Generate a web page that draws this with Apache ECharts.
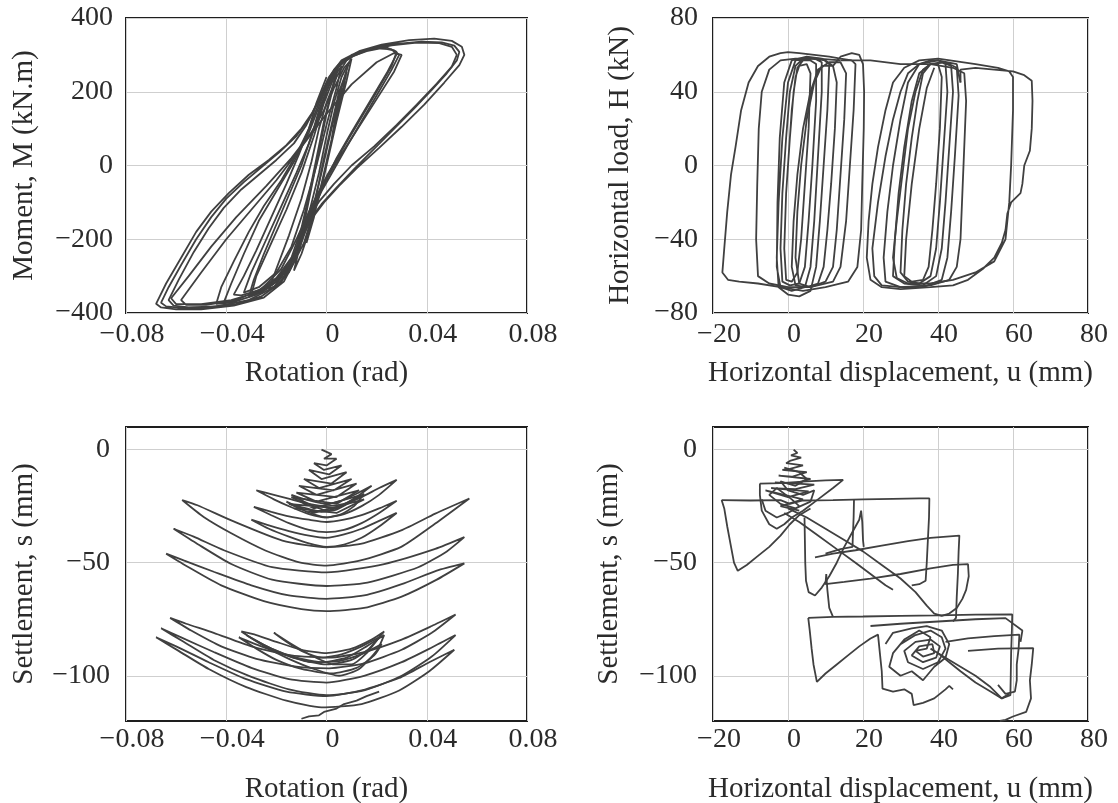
<!DOCTYPE html>
<html>
<head>
<meta charset="utf-8">
<script src="https://cdn.jsdelivr.net/npm/echarts@6/dist/echarts.min.js"></script>
<style>
html,body{margin:0;padding:0;background:#fff;}
#chart{width:1118px;height:803px;}
</style>
</head>
<body>
<div id="chart"></div>
<script>
// ---------- tick values ----------
const rotationTicks = [-0.08, -0.04, 0, 0.04, 0.08];
const momentTicks = [-400, -200, 0, 200, 400];
const dispTicks = [-20, 0, 20, 40, 60, 80];
const loadTicks = [-80, -40, 0, 40, 80];
const settlementTicks = [-100, -50, 0];

// ---------- moment vs rotation (rad, kN.m) ----------
const momentCycles1 = [[0,0],[0.002,70],[0.004,150],[0.006,210],[0.005,170],[0.002,70],[-0.002,-50],[-0.005,-140],[-0.008,-210],[-0.007,-170],[-0.004,-80],[-0.001,20],[0.002,110],[0.005,200],[0.008,255],[0.006,190],[0.002,60],[-0.002,-60],[-0.006,-160],[-0.010,-240],[-0.013,-285],[-0.011,-230],[-0.007,-130],[-0.003,-20],[0,80],[0.003,170],[0.006,240],[0.009,280],[0.010,290],[0.008,230],[0.004,120],[0,0],[-0.004,-100],[-0.009,-210],[-0.015,-290],[-0.020,-325],[-0.023,-335],[-0.020,-280],[-0.015,-190],[-0.010,-90],[-0.006,10],[-0.003,100],[0,170],[0.004,240],[0.008,285],[0.011,298]];
const momentCycles2 = [[0.011,298],[0.016,310],[0.022,318],[0.027,312],[0.029,300],[0.026,260],[0.020,190],[0.014,120],[0.008,50],[0.003,-10],[-0.002,-70],[-0.006,-130],[-0.010,-200],[-0.015,-270],[-0.022,-320],[-0.030,-355],[-0.038,-372],[-0.044,-375],[-0.042,-330],[-0.037,-260],[-0.031,-180],[-0.025,-110],[-0.018,-40],[-0.012,30],[-0.007,100],[-0.003,170],[0.001,230],[0.006,280],[0.012,305],[0.020,318],[0.026,315],[0.028,302],[0.024,250],[0.017,170],[0.010,90],[0.004,20],[-0.001,-50],[-0.005,-110],[-0.009,-180],[-0.014,-260],[-0.020,-315],[-0.028,-350],[-0.036,-368],[-0.041,-372]];
const momentCycles3 = [[-0.041,-372],[-0.038,-320],[-0.033,-240],[-0.027,-150],[-0.020,-70],[-0.013,10],[-0.007,90],[-0.003,160],[0.001,230],[0.005,275],[0.010,300],[0.018,318],[0.028,330],[0.038,336],[0.046,334],[0.051,325],[0.053,308],[0.052,285],[0.048,250],[0.042,205],[0.035,155],[0.027,100],[0.019,45],[0.011,-10],[0.004,-60],[-0.002,-105],[-0.007,-150],[-0.010,-200],[-0.013,-260],[-0.018,-315],[-0.026,-355],[-0.036,-375],[-0.048,-385],[-0.058,-386],[-0.064,-382],[-0.066,-372],[-0.063,-330],[-0.058,-270],[-0.052,-200],[-0.046,-140],[-0.040,-90],[-0.033,-45],[-0.026,-5],[-0.019,35],[-0.012,80],[-0.007,125],[-0.003,180],[0.001,240],[0.006,285],[0.013,310],[0.022,328],[0.033,340],[0.043,344],[0.050,338],[0.054,322],[0.055,300],[0.053,272],[0.047,225],[0.039,165],[0.030,105],[0.021,48],[0.012,-8],[0.005,-55],[-0.001,-100],[-0.006,-145],[-0.010,-200],[-0.013,-262],[-0.017,-315],[-0.025,-358],[-0.037,-380],[-0.050,-390],[-0.060,-390],[-0.066,-385],[-0.068,-375],[-0.064,-320],[-0.058,-250],[-0.052,-180],[-0.046,-125],[-0.039,-75],[-0.031,-25],[-0.023,15],[-0.016,55],[-0.010,100],[-0.005,150],[0,215],[0.004,265],[0.010,298],[0.018,318]];
const momentCycles4 = [[0.018,318],[0.024,320],[0.028,308],[0.026,270],[0.020,200],[0.013,120],[0.006,40],[0,-30],[-0.006,-110],[-0.012,-200],[-0.018,-280],[-0.026,-335],[-0.036,-365],[-0.048,-378],[-0.056,-378],[-0.058,-365],[-0.050,-290],[-0.040,-200],[-0.030,-120],[-0.020,-40],[-0.010,50],[0,140],[0.010,220],[0.020,280],[0.027,305],[0.030,300],[0.027,255],[0.020,180],[0.012,95],[0.005,20],[-0.002,-60],[-0.008,-150],[-0.013,-240],[-0.019,-305],[-0.028,-345],[-0.038,-365],[-0.050,-376],[-0.060,-376],[-0.062,-360],[-0.055,-300],[-0.046,-220],[-0.036,-140],[-0.024,-55],[-0.014,20],[-0.006,90],[-0.001,150],[0.003,210]];
const momentCycles5 = [[0.003,210],[0.007,265],[0.009,280],[0.006,210],[0.002,100],[-0.002,-20],[-0.006,-130],[-0.011,-230],[-0.017,-300],[-0.024,-335],[-0.030,-350],[-0.028,-300],[-0.022,-210],[-0.016,-120],[-0.010,-20],[-0.005,80],[-0.001,170],[0.003,240],[0.006,270],[0.004,210],[0,110],[-0.004,0],[-0.009,-120],[-0.014,-220],[-0.020,-290],[-0.027,-330],[-0.033,-345],[-0.030,-290],[-0.024,-200],[-0.018,-110],[-0.012,-20],[-0.007,60],[-0.003,140],[0,200]];
const momentCycles6 = [[0,200],[0.004,262],[0.009,292],[0.016,312],[0.026,326],[0.036,333],[0.045,332],[0.050,322],[0.052,300],[0.050,268],[0.044,222],[0.036,165],[0.028,110],[0.019,52],[0.010,0],[0.003,-50],[-0.003,-98],[-0.008,-150],[-0.011,-210],[-0.015,-275],[-0.021,-330],[-0.031,-365],[-0.044,-382],[-0.055,-385],[-0.061,-380],[-0.063,-365],[-0.059,-310],[-0.053,-235],[-0.047,-170],[-0.041,-115],[-0.034,-65],[-0.027,-25],[-0.020,15],[-0.013,60],[-0.008,110],[-0.004,165],[0,225]];
const momentCycles7 = [[0,225],[0.003,260],[0.005,275],[0.003,220],[0,140],[-0.003,40],[-0.006,-60],[-0.009,-160],[-0.013,-250],[-0.019,-310],[-0.026,-345],[-0.031,-355],[-0.029,-310],[-0.025,-240],[-0.020,-160],[-0.015,-80],[-0.010,0],[-0.006,80],[-0.003,150],[0.001,220],[0.004,262],[0.002,200],[-0.001,120],[-0.004,20],[-0.007,-80],[-0.010,-170],[-0.014,-250],[-0.020,-305],[-0.027,-338],[-0.034,-352],[-0.037,-350],[-0.033,-300],[-0.028,-230],[-0.022,-140],[-0.016,-50],[-0.011,30],[-0.007,100],[-0.004,170],[0,240]];

// ---------- horizontal load vs displacement (mm, kN) ----------
const loadGroupA = [[0,0],[1,30],[2,48],[3,54],[5,55],[6,50],[5.5,20],[4.5,-10],[3.5,-40],[2.5,-58],[1,-63],[-0.5,-62],[-1,-45],[-0.5,-15],[0.5,15],[1.5,40],[2.5,53],[4,57],[6,57],[7.5,55],[7.5,35],[6.5,0],[5.5,-30],[4.5,-55],[3,-64],[0.5,-65],[-1.5,-63],[-2,-45],[-1.5,-15],[-0.5,15],[0.5,40],[2,54],[4,58],[7,58],[9,56],[9,40],[8,5],[7,-30],[6,-55],[4.5,-66],[1,-68],[-2,-66],[-3,-55],[-2.8,-20],[-2.2,15],[-1,45],[1,57],[5,59],[9,58],[11,55],[10.5,30],[9.5,0],[8.5,-30],[7.5,-55],[6,-68],[3,-71],[0,-70],[-2.5,-66],[-3,-50],[-2.5,-20],[-1.5,15],[0,45],[2,57],[6,58],[10,57],[12,54]];
const loadGroupG = [[12,54],[13,45],[12.5,20],[11.5,-10],[10.5,-35],[9.5,-55],[8,-64],[5,-66],[2,-65],[1,-55],[1.5,-30],[2.5,-5],[4,20],[6,40],[8,52],[11,56],[14,56],[15.5,50],[15,25],[14,-5],[13,-35],[12,-55],[10,-63],[6,-66],[3,-64],[2,-50],[2.5,-25],[3.5,0],[5,25],[7,45],[9,54],[12,54]];
const loadGroupB = [[12,54],[14,59],[17,61],[19,60],[20,55],[20.3,40],[20.2,20],[19.8,-10],[19.5,-35],[18.5,-55],[16,-63],[10,-66],[4,-68],[-2,-66],[-8,-64],[-13,-63],[-16,-62],[-17.5,-58],[-17,-45],[-16.2,-25],[-15.2,-5],[-14,10],[-12.5,30],[-10.5,45],[-8,54],[-5,59],[-2,61],[0,61.5],[3,61],[7,60],[11,59],[14,58],[17,57]];
const loadGroupB2 = [[17,57],[18,55],[17.5,30],[16.5,0],[15.5,-30],[14,-55],[12,-63],[6,-66],[0,-66],[-5,-64],[-8,-60],[-8.5,-40],[-8.2,-10],[-7.8,20],[-7,40],[-5,52],[-2,57],[2,58],[8,58],[14,57]];
const loadGroupC = [[14,57],[22,57],[30,55],[38,55],[44,53],[47,50],[47.5,35],[47,10],[46.5,-15],[46,-40],[45,-55],[43,-62],[38,-65],[30,-66],[25,-65],[23,-60],[22.5,-45],[24,-20],[26,5],[28,25],[30,40],[32,50],[35,55],[38,57],[40,57]];
const loadGroupD = [[40,57],[42,55],[42.5,40],[41.5,10],[40.5,-20],[39.5,-45],[38,-60],[35,-64],[32,-63],[30,-58],[30.5,-35],[31.5,-10],[33,15],[34.5,35],[36,50],[38,55],[41,56],[43.5,54],[44,40],[43,10],[42,-20],[41,-45],[39.5,-60],[36,-65],[31,-64],[28,-60],[28.5,-40],[29.5,-15],[31,10],[33,35],[35,50],[38,55],[42,56],[45,53],[45.5,38],[44.5,5],[43.5,-25],[42.5,-50],[41,-62],[36,-66],[30,-66],[26,-63],[25.5,-50],[26.5,-25],[28,0],[30,25],[32,45],[35,55],[40,57],[45,55],[46,45]];
const loadGroupE = [[46,45],[46,52],[50,53],[55,52],[60,51],[63,49],[65,46],[65.2,35],[65,20],[64.5,8],[63,0],[62.5,-10],[62,-15],[59.5,-20],[58.5,-26],[58,-35],[57,-42],[55,-50],[52,-56],[48,-62],[44,-65],[38,-66],[30,-67],[25,-66],[22,-62],[21,-50],[21.5,-30],[22.5,-10],[24,10],[26,30],[28,45],[31,53],[35,57],[40,58],[50,55],[56,53],[59,51],[60,48],[60,30],[59.5,0],[59,-20],[58,-40],[55,-52],[50,-58],[44,-62],[38,-64],[32,-64],[29,-61],[28,-50],[29,-30]];
const loadGroupF = [[29,-30],[30.5,-5],[32,20],[34,40],[36,52],[38,55],[40,55],[41,48],[40.5,20],[39.5,-10],[38.5,-35],[37.5,-55],[36,-62],[33,-63],[31,-60],[31.5,-40],[33,-10],[35,20],[37,42],[39,53]];

// ---------- settlement vs rotation (rad, mm) ----------
const settleTree = [[-0.002,0],[0.002,-2],[-0.001,-4],[0.004,-4],[0,-7],[-0.005,-6],[-0.001,-9],[0.006,-7],[0.001,-11],[-0.007,-9],[-0.002,-13],[0.008,-10],[0.002,-15],[-0.009,-13],[-0.003,-17],[0.010,-13],[0.003,-18],[-0.011,-16],[-0.004,-20],[0.012,-15],[0.004,-21],[-0.012,-19],[-0.004,-23],[0.013,-18],[0.004,-24],[-0.014,-21],[-0.005,-26],[0.014,-20],[0.004,-26],[-0.015,-24],[-0.005,-28],[0.015,-22],[0.004,-28],[-0.013,-26]];
const settleRing0 = [[-0.014,-20],[-0.009,-23],[-0.004,-25.5],[0,-27],[0.006,-25],[0.012,-21],[0.018,-16],[0.012,-19.5],[0.006,-22.5],[0,-24],[-0.005,-23],[-0.010,-21.5],[-0.014,-20]];
const settleRing0b = [[-0.016,-23],[-0.010,-26.5],[-0.004,-29],[0,-30],[0.006,-28.5],[0.011,-25],[0.015,-19.5],[0.010,-23],[0.004,-26.5],[-0.002,-27.5],[-0.008,-26],[-0.013,-24.5],[-0.016,-23]];
const settleRing1 = [[-0.028,-18],[-0.021,-22],[-0.014,-25.5],[-0.007,-28.5],[0,-30],[0.007,-28.5],[0.014,-25],[0.021,-20],[0.028,-13.4],[0.021,-17],[0.014,-21],[0.007,-24],[0,-25],[-0.007,-24],[-0.014,-22],[-0.021,-20],[-0.028,-18]];
const settleRing2 = [[-0.029,-25.3],[-0.022,-29],[-0.015,-32.5],[-0.007,-35.5],[0,-36.5],[0.007,-35.5],[0.014,-32.5],[0.021,-28],[0.028,-22.6],[0.021,-26],[0.014,-29],[0.007,-31],[0,-32],[-0.007,-31],[-0.015,-29.5],[-0.022,-27.5],[-0.029,-25.3]];
const settleRing3 = [[-0.030,-31],[-0.023,-35],[-0.015,-38.5],[-0.007,-41.5],[0,-43],[0.007,-42],[0.014,-39],[0.021,-34],[0.028,-28],[0.021,-31.5],[0.014,-35],[0.007,-37.5],[0,-39],[-0.007,-38],[-0.015,-36],[-0.023,-33.5],[-0.030,-31]];
const settleRing4 = [[-0.0576,-22.3],[-0.049,-29.8],[-0.038,-37],[-0.0244,-44.6],[-0.0108,-49.9],[0,-51.3],[0.0136,-49],[0.0298,-43],[0.0434,-32.7],[0.057,-21.6],[0.0434,-28.3],[0.0298,-35.7],[0.0136,-41.7],[0,-43.2],[-0.0176,-40.2],[-0.038,-31.3],[-0.0515,-24.6],[-0.0576,-22.3]];
const settleRing5 = [[-0.061,-35],[-0.0515,-41.7],[-0.038,-50.6],[-0.0217,-57.5],[0,-60.3],[0.0163,-58.8],[0.0366,-52],[0.048,-45],[0.055,-38.7],[0.0434,-43.9],[0.023,-50.6],[0,-54.3],[-0.0217,-52],[-0.0407,-44.6],[-0.053,-38.5],[-0.061,-35]];
const settleRing6 = [[-0.064,-46],[-0.055,-52],[-0.042,-60],[-0.025,-67],[-0.010,-70.5],[0,-71.4],[0.015,-70],[0.030,-65],[0.044,-57.5],[0.055,-50.3],[0.044,-53.5],[0.030,-59.5],[0.015,-64.5],[0,-66],[-0.015,-64.5],[-0.030,-60],[-0.045,-54],[-0.057,-49],[-0.064,-46]];
const settleRing7 = [[-0.0624,-74.4],[-0.054,-80],[-0.042,-87],[-0.028,-92.5],[-0.012,-96],[0.001,-96.7],[0.015,-94.5],[0.030,-88.5],[0.042,-81],[0.0515,-72.9],[0.042,-78],[0.030,-84],[0.015,-89.5],[0.001,-92],[-0.014,-91],[-0.030,-87],[-0.045,-81],[-0.056,-77],[-0.0624,-74.4]];
const settleRing8 = [[-0.066,-79],[-0.057,-85],[-0.045,-93],[-0.030,-100.5],[-0.015,-106],[0,-108.6],[0.015,-106.5],[0.030,-100],[0.042,-91.5],[0.0515,-82],[0.042,-87.5],[0.030,-94],[0.015,-100],[0,-103],[-0.015,-101.5],[-0.030,-96.5],[-0.045,-89.5],[-0.058,-83],[-0.066,-79]];
const settleRing9 = [[-0.068,-83],[-0.059,-89],[-0.047,-97],[-0.032,-105],[-0.016,-111],[-0.002,-114],[0.014,-112.5],[0.029,-106.5],[0.041,-98],[0.051,-88.5],[0.041,-94],[0.029,-101],[0.014,-106.5],[0,-109],[-0.016,-107],[-0.032,-101.5],[-0.047,-94],[-0.060,-87],[-0.068,-83]];
const settleRing10 = [[-0.034,-80.4],[-0.029,-84],[-0.022,-88],[-0.013,-92],[0,-95],[0.010,-93],[0.017,-88],[0.023,-80.4],[0.018,-84],[0.010,-88],[0,-90],[-0.010,-88.5],[-0.020,-85],[-0.028,-82],[-0.034,-80.4]];
const settleRing11 = [[-0.035,-83],[-0.028,-88],[-0.020,-93],[-0.010,-97],[0.002,-99],[0.012,-96.5],[0.019,-91],[0.022,-86],[0.015,-90],[0.005,-93.5],[-0.006,-94],[-0.016,-91],[-0.026,-87],[-0.035,-83]];
const settleRing12 = [[-0.021,-81],[-0.014,-86],[-0.006,-91],[0.003,-95],[0.010,-95],[0.016,-90],[0.021,-83],[0.014,-87],[0.006,-90.5],[-0.002,-92],[-0.010,-89],[-0.016,-85],[-0.021,-81]];
const settleRing13 = [[-0.032,-82],[-0.024,-87.5],[-0.015,-92.5],[-0.005,-97],[0.005,-100],[0.013,-97],[0.020,-89],[0.023,-82],[0.016,-87],[0.008,-92],[-0.002,-94],[-0.012,-92],[-0.022,-88],[-0.032,-82]];
const settleTail = [[0.021,-107],[0.016,-109],[0.012,-111],[0.007,-112.5],[0.004,-114.5],[-0.001,-116],[-0.003,-117.5],[-0.007,-118],[-0.010,-119]];

// ---------- settlement vs horizontal displacement (mm, mm) ----------
const pathTop = [[1.5,0],[2.5,-1.5],[0.8,-2.5],[3.5,-3.5],[0.5,-5],[-0.5,-6],[4,-7],[0.5,-8.5],[-1.5,-9],[5,-10],[1,-12],[-2.5,-11.5],[6,-13],[1.5,-15],[-3.5,-14.5],[7,-15.5],[2,-17.5],[-4.5,-17],[5.5,-18.5],[0,-21],[-6,-18],[4,-22],[-2,-25],[3,-27]];
const pathTop2 = [[-1,-8],[3,-10],[5,-13],[2,-16],[-2,-14],[0,-18],[4,-20],[7,-18],[6,-23],[2,-26],[-2,-24],[-5,-20],[-3,-17],[1,-22],[3,-25],[0,-28],[-3,-30],[-6,-27],[-7,-22]];
const pathUpperBox = [[-17.7,-22.3],[-10,-22.5],[-2,-22.3],[0.5,-24],[4,-22.5],[12,-22.3],[20,-22],[28,-21.8],[35,-21.6],[37.7,-21.6],[37.6,-30],[37.3,-40],[37,-50],[36.7,-58],[35,-59.5],[33,-60]];
const pathLeftWedge = [[-17.7,-22.3],[-17,-26],[-16.2,-34],[-15.3,-42],[-14.4,-50],[-13.4,-53.6],[-11,-51],[-8,-47],[-5,-43],[-2,-38],[0.5,-33],[3,-29],[6,-26]];
const pathTopWedge = [[-7.5,-15],[-2,-14.8],[5,-14],[10,-13.6],[14.7,-13.4],[12,-17],[8,-22],[4,-27],[1,-30],[-1,-33],[-3,-35],[-5,-33],[-7,-27],[-7.5,-20],[-7.5,-15]];
const pathMidWedge = [[4.4,-30],[4.5,-40],[4.6,-50],[4.8,-58],[5.5,-63],[7.2,-64.5],[9,-61],[11,-56],[13,-50],[15,-43],[17,-37],[19,-31],[19.5,-27],[19.8,-32],[20,-40],[20.2,-43]];
const pathMidStep = [[17.6,-22],[17.5,-30],[17.3,-38],[17.2,-43],[14,-44],[10,-46]];
const pathMidBox = [[7.2,-47.6],[12,-46],[18,-44.5],[25,-42.5],[32,-40.5],[38,-39],[45.7,-38],[45.5,-45],[45.3,-55],[45,-65],[44.8,-74.4],[44,-76]];
const pathValley = [[0,-26],[5,-30],[10,-35],[15,-40],[20,-45],[25,-51],[30,-57],[34,-63],[37,-69],[39,-72.5],[41,-73.5],[43,-72.5],[45,-70],[46.5,-66],[47.5,-62],[48.2,-56],[48,-50.6],[44,-51],[38,-52.5],[30,-55],[22,-57],[15,-58.5],[10,-59.5],[10.2,-55],[10.5,-62],[11,-70],[12,-74]];
const pathDiagonal = [[-1,-28],[3,-32],[8,-38],[13,-44],[18,-50],[22,-55],[26,-60],[28,-62]];
const pathLowerBox = [[5.4,-74.4],[12,-74],[20,-73.8],[30,-73.5],[40,-73.3],[50,-73],[59.8,-72.9],[59.7,-80],[59.5,-90],[59.4,-100],[59.3,-108.6],[57,-110],[54,-107],[50,-103],[46,-98],[43,-94],[40,-90]];
const pathLowerWedge = [[5.4,-74.4],[5.8,-80],[6.3,-88],[6.8,-95],[7.7,-102.7],[10,-99],[13,-95],[16,-91],[19,-87],[22,-83.5],[24,-81.8],[24.5,-90],[25,-98],[25.2,-105.7],[28,-107],[31,-106],[33,-108],[33.5,-113],[36,-112],[39,-110],[42,-106],[43,-104.5],[44,-106]];
const pathRightEdge = [[42,-85],[48,-83.5],[55,-82.5],[61.7,-81.8],[61.5,-88],[61,-95],[61,-102],[60.5,-107],[58,-108],[56,-104]];
const pathRightTail = [[48,-89],[56,-88],[65.4,-87.8],[65,-95],[64.5,-102],[64.8,-110],[63.5,-116],[60,-118],[58,-119.5],[56.5,-120]];
const pathCluster = [[30,-86],[34,-82],[38,-80],[41,-83],[42,-88],[40,-94],[36,-97],[32,-94],[31,-89],[34,-85],[38,-84],[40.5,-87],[39.5,-92],[36,-94],[33,-91],[35,-87],[38.5,-86],[39,-90],[36,-91.5],[34,-89],[37,-88],[38,-83],[35,-80],[31,-84],[28,-90],[27,-96],[30,-100],[33,-98],[36,-102],[39,-96],[42,-92],[43,-86],[41,-80],[37,-78],[33,-79],[28,-81],[26,-86]];
const pathUpperLower = [[22,-78],[30,-77],[40,-76],[50,-75],[58,-74.5],[62.5,-80],[62,-85]];
const pathSlide = [[38,-88],[42,-92],[46,-96],[50,-100],[54,-105],[57,-110],[59,-108]];

// ---------- chart ----------
const LINE = '#404040';
const TXT = '#2b2b2b';
const FONT = 'Liberation Serif';

function trace(data, idx, smooth) {
  return {
    type: 'line', xAxisIndex: idx, yAxisIndex: idx, data: data,
    showSymbol: false, symbol: 'none', smooth: smooth || false,
    lineStyle: { color: LINE, width: 1.8 },
    silent: true, animation: false, clip: true
  };
}
function fmtSigned(v) {
  if (Math.abs(v) < 1e-9) return '0';
  return (v < 0 ? '\u2212' : '') + Math.abs(v);
}
function fmtRot(v) {
  if (Math.abs(v) < 1e-9) return '0';
  return (v < 0 ? '\u2212' : '') + Math.abs(v).toFixed(2);
}
const gridStyle = { show: true, borderColor: '#1e1e1e', borderWidth: 2, backgroundColor: 'transparent', outerBoundsMode: 'none', containLabel: false };
const split = { show: true, lineStyle: { color: '#cfcfcf', width: 1 } };

function xAxis(idx, min, max, interval, fmt, name, gap, margin) {
  return {
    type: 'value', gridIndex: idx, min: min, max: max, interval: interval,
    axisLine: { show: false, onZero: false }, axisTick: { show: false },
    splitLine: split,
    axisLabel: { formatter: fmt, fontFamily: FONT, fontSize: 28, color: TXT, margin: margin, padding: [0, 0, 0, 12] },
    name: name, nameLocation: 'middle', nameGap: gap,
    nameTextStyle: { fontFamily: FONT, fontSize: 29, color: TXT }
  };
}
function yAxis(idx, min, max, interval, custom, name, gap, margin) {
  const ax = {
    type: 'value', gridIndex: idx, min: min, max: max,
    axisLine: { show: false, onZero: false }, axisTick: { show: false },
    splitLine: split,
    axisLabel: { formatter: fmtSigned, fontFamily: FONT, fontSize: 28, color: TXT, margin: margin },
    name: name, nameLocation: 'middle', nameGap: gap,
    nameTextStyle: { fontFamily: FONT, fontSize: 29, color: TXT }
  };
  if (interval) ax.interval = interval;
  if (custom) {
    ax.axisTick.customValues = custom;
    ax.axisLabel.customValues = custom;
  }
  return ax;
}

const chart = echarts.init(document.getElementById('chart'), null, { renderer: 'canvas' });
chart.setOption({
  backgroundColor: '#ffffff',
  animation: false,
  grid: [
    Object.assign({ left: 126, top: 18, width: 401, height: 295 }, gridStyle),
    Object.assign({ left: 713, top: 18, width: 375, height: 295 }, gridStyle),
    Object.assign({ left: 126, top: 427, width: 401, height: 294 }, gridStyle),
    Object.assign({ left: 713, top: 427, width: 375, height: 294 }, gridStyle)
  ],
  xAxis: [
    xAxis(0, rotationTicks[0], rotationTicks[4], 0.04, fmtRot, 'Rotation (rad)', 46, 8),
    xAxis(1, dispTicks[0], dispTicks[5], 20, fmtSigned, 'Horizontal displacement, u (mm)', 46, 8),
    xAxis(2, rotationTicks[0], rotationTicks[4], 0.04, fmtRot, 'Rotation (rad)', 54, 5),
    xAxis(3, dispTicks[0], dispTicks[5], 20, fmtSigned, 'Horizontal displacement, u (mm)', 54, 5)
  ],
  yAxis: [
    yAxis(0, momentTicks[0], momentTicks[4], 200, null, 'Moment, M (kN.m)', 87, 13),
    yAxis(1, loadTicks[0], loadTicks[4], 40, null, 'Horizontal load, H (kN)', 78, 15),
    yAxis(2, -120, 10, null, settlementTicks, 'Settlement, s (mm)', 87, 16),
    yAxis(3, -120, 10, null, settlementTicks, 'Settlement, s (mm)', 89, 16)
  ],
  series: [
    trace(momentCycles1, 0), trace(momentCycles2, 0), trace(momentCycles3, 0),
    trace(momentCycles4, 0), trace(momentCycles5, 0), trace(momentCycles6, 0), trace(momentCycles7, 0),
    trace(loadGroupA, 1), trace(loadGroupG, 1), trace(loadGroupB, 1), trace(loadGroupB2, 1), trace(loadGroupC, 1),
    trace(loadGroupD, 1), trace(loadGroupE, 1), trace(loadGroupF, 1),
    trace(settleTree, 2), trace(settleRing0, 2, 0.2), trace(settleRing0b, 2, 0.2),
    trace(settleRing1, 2, 0.2), trace(settleRing2, 2, 0.2), trace(settleRing3, 2, 0.2),
    trace(settleRing4, 2, 0.2), trace(settleRing5, 2, 0.2), trace(settleRing6, 2, 0.2),
    trace(settleRing7, 2, 0.2), trace(settleRing8, 2, 0.2), trace(settleRing9, 2, 0.2),
    trace(settleRing10, 2, 0.2), trace(settleRing11, 2, 0.2), trace(settleRing12, 2, 0.2),
    trace(settleRing13, 2, 0.2), trace(settleTail, 2),
    trace(pathTop, 3), trace(pathTop2, 3), trace(pathUpperBox, 3), trace(pathLeftWedge, 3), trace(pathTopWedge, 3),
    trace(pathMidWedge, 3), trace(pathMidStep, 3), trace(pathMidBox, 3), trace(pathValley, 3),
    trace(pathDiagonal, 3), trace(pathLowerBox, 3), trace(pathLowerWedge, 3), trace(pathRightEdge, 3),
    trace(pathRightTail, 3), trace(pathCluster, 3), trace(pathUpperLower, 3), trace(pathSlide, 3)
  ]
});
</script>
</body>
</html>
